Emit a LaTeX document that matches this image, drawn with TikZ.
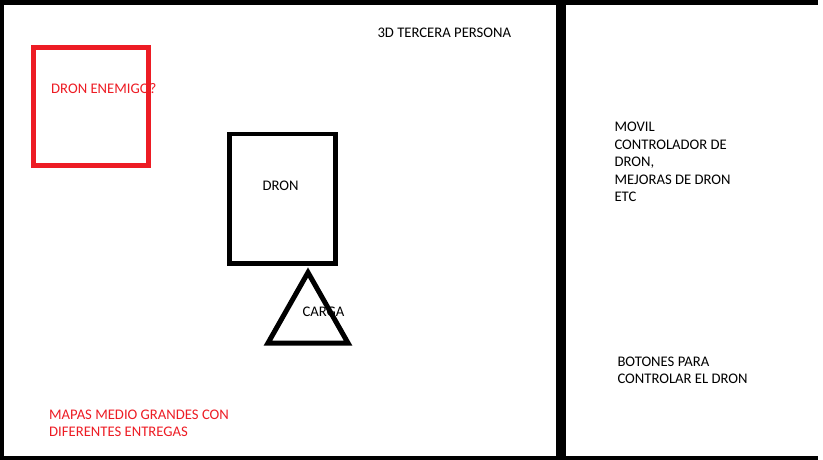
\documentclass[tikz,border=0pt]{standalone}
\usepackage{fontspec}
\setmainfont{Carlito}
\definecolor{pred}{HTML}{ED1C24}
\begin{document}
\begin{tikzpicture}[x=1pt,y=-1pt,
  lbl/.style={inner sep=0pt,anchor=base west,font=\fontsize{14.67}{17.6}\selectfont},
  redlbl/.style={lbl,text=pred},
  frame/.style={fill=black,draw=none}]
\useasboundingbox (0,0) rectangle (823,460);
% frame bars
\fill[frame] (0,0) rectangle (818,4.7);
\fill[frame] (0,455.5) rectangle (818,460);
\fill[frame] (0,0) rectangle (3.5,460);
\fill[frame] (556,0) rectangle (566,460);
% enemy drone box
\draw[pred,line width=4.7pt] (33.3,47.3) rectangle (148.7,165.7);
\node[redlbl] (enemigo) at (51,93.3) {DRON ENEMIGO?};
% drone
\draw[black,line width=4.7pt] (229.7,134) rectangle (335.3,263.3);
\node[lbl] (dron) at (262.3,190) {DRON};
% load triangle
\draw[black,line width=5pt,line join=miter] (308,272.5) -- (348,343) -- (268,343) -- cycle;
\node[lbl] (carga) at (302.3,316) {CARGA};
% top label
\node[lbl] (tercera) at (377.3,37.3) {3D TERCERA PERSONA};
% right panel
\node[lbl] (m1) at (614.3,131.7) {MOVIL};
\node[lbl] (m2) at (614.3,149.2) {CONTROLADOR DE};
\node[lbl] (m3) at (614.3,166.7) {DRON,};
\node[lbl] (m4) at (614.3,184.2) {MEJORAS DE DRON};
\node[lbl] (m5) at (614.3,201.7) {ETC};
\node[lbl] (b1) at (617.3,366) {BOTONES PARA};
\node[lbl] (b2) at (617.3,383) {CONTROLAR EL DRON};
% bottom label
\node[redlbl] (mapas1) at (49,419.3) {MAPAS MEDIO GRANDES CON};
\node[redlbl] (mapas2) at (49,436.7) {DIFERENTES ENTREGAS};
\end{tikzpicture}
\end{document}
